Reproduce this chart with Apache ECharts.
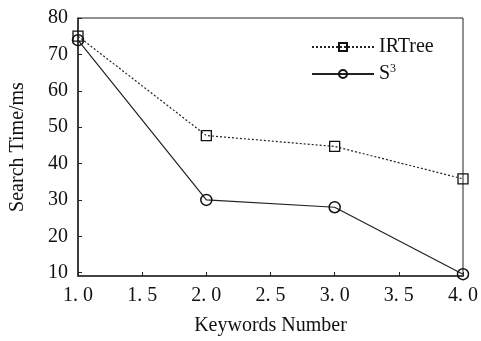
<!DOCTYPE html>
<html>
<head>
<meta charset="utf-8">
<script src="https://cdn.jsdelivr.net/npm/echarts@6/dist/echarts.min.js"></script>
<style>
html,body{margin:0;padding:0;background:#fff;}
#chart{width:481px;height:341px;}
</style>
</head>
<body>
<div id="chart"></div>
<script>
var keywords = [1, 2, 3, 4];
var irtree = [75.0, 47.7, 44.7, 35.8];
var s3 = [73.9, 30.0, 28.0, 9.6];
var yTicks = [10, 20, 30, 40, 50, 60, 70, 80];
var xTicks = [1.0, 1.5, 2.0, 2.5, 3.0, 3.5, 4.0];

var FONT = 'Liberation Serif';
var chart = echarts.init(document.getElementById('chart'), null, {renderer: 'canvas'});

function pairs(xs, ys) { return xs.map(function (x, i) { return [x, ys[i]]; }); }

chart.setOption({
  backgroundColor: '#fff',
  animation: false,
  textStyle: {fontFamily: FONT, color: '#111'},
  grid: {left: 74, right: 13, top: 18, bottom: 60, show: true, borderColor: '#222', borderWidth: 1, containLabel: false},
  legend: {
    left: 306, top: 32, orient: 'vertical', itemWidth: 62, itemHeight: 10, itemGap: 6,
    textStyle: {fontFamily: FONT, fontSize: 20, color: '#111',
      rich: {a: {fontFamily: FONT, fontSize: 20, color: '#111'},
             b: {fontFamily: FONT, fontSize: 12, color: '#111', verticalAlign: 'bottom', padding: [0, 0, 10, 0]}}},
    formatter: function (n) { return n === 'S3' ? '{a|S}{b|3}' : n; },
    data: ['IRTree', 'S3']
  },
  xAxis: {
    type: 'value', min: 1, max: 4, interval: 0.5,
    name: 'Keywords Number', nameLocation: 'middle', nameGap: 40,
    nameTextStyle: {fontFamily: FONT, fontSize: 20, color: '#111'},
    axisLine: {show: true, lineStyle: {color: '#444', width: 2}},
    axisTick: {show: true, inside: true, length: 4, lineStyle: {color: '#222'}, customValues: xTicks},
    axisLabel: {fontFamily: FONT, fontSize: 20, color: '#111', margin: 10, customValues: xTicks,
      formatter: function (v) { return v.toFixed(1).replace('.', '. '); }},
    splitLine: {show: false}
  },
  yAxis: {
    type: 'value', min: 9.1, max: 80,
    name: 'Search Time/ms', nameLocation: 'middle', nameGap: 50,
    nameTextStyle: {fontFamily: FONT, fontSize: 20, color: '#111'},
    axisLine: {show: true, lineStyle: {color: '#222', width: 1.5}},
    axisTick: {show: true, inside: true, length: 4, lineStyle: {color: '#222'}, customValues: yTicks},
    axisLabel: {fontFamily: FONT, fontSize: 20, color: '#111', margin: 10, customValues: yTicks},
    splitLine: {show: false}
  },
  series: [
    {
      name: 'IRTree', type: 'line', data: pairs(keywords, irtree),
      symbol: 'rect', symbolSize: 10,
      lineStyle: {color: '#222', width: 1.2, type: [2, 2]},
      itemStyle: {color: 'rgba(255,255,255,0)', borderColor: '#111', borderWidth: 1.3}
    },
    {
      name: 'S3', type: 'line', data: pairs(keywords, s3),
      symbol: 'circle', symbolSize: 11,
      lineStyle: {color: '#222', width: 1.2, type: 'solid'},
      itemStyle: {color: 'rgba(255,255,255,0)', borderColor: '#111', borderWidth: 1.5}
    }
  ]
});
</script>
</body>
</html>
